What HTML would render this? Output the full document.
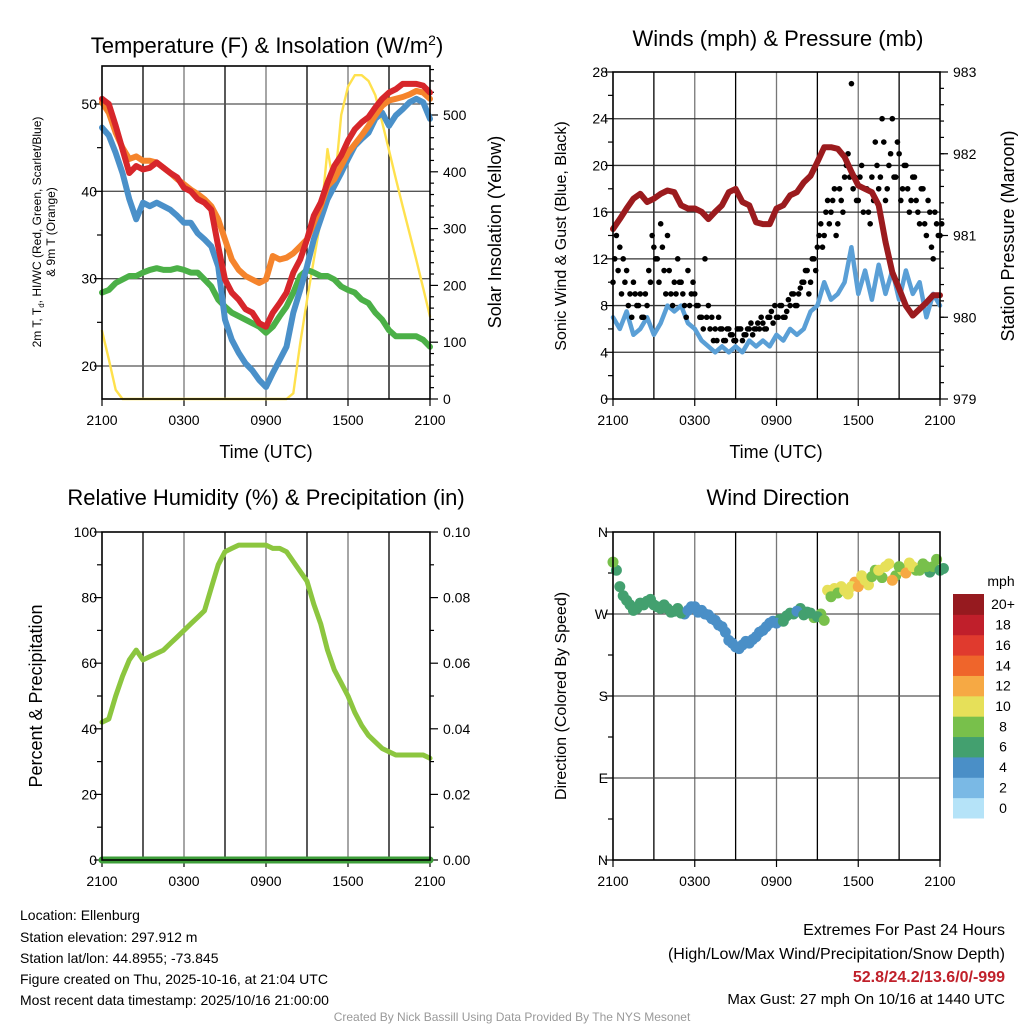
<!DOCTYPE html>
<html><head><meta charset="utf-8"><style>
html,body{margin:0;padding:0;background:#fff;}
svg{display:block;font-family:"Liberation Sans",Arial,sans-serif;}
</style></head><body>
<svg id="fig" width="1024" height="1024" viewBox="0 0 1024 1024">
<rect x="0" y="0" width="1024" height="1024" fill="#fff"/>
<text x="267" y="53" font-size="22" text-anchor="middle">Temperature (F) &amp; Insolation (W/m<tspan dy="-8" font-size="14">2</tspan><tspan dy="8">)</tspan></text>
<text x="778" y="46" font-size="22" text-anchor="middle">Winds (mph) &amp; Pressure (mb)</text>
<text x="266" y="505" font-size="22" text-anchor="middle">Relative Humidity (%) &amp; Precipitation (in)</text>
<text x="778" y="505" font-size="22" text-anchor="middle">Wind Direction</text>
<text x="266" y="458" font-size="18" text-anchor="middle">Time (UTC)</text>
<text x="776" y="458" font-size="18" text-anchor="middle">Time (UTC)</text>
<text transform="translate(41,232) rotate(-90)" font-size="12" text-anchor="middle">2m T, T<tspan font-size="8" dy="3">d</tspan><tspan dy="-3">, HI/WC (Red, Green, Scarlet/Blue)</tspan></text>
<text transform="translate(55,232) rotate(-90)" font-size="12" text-anchor="middle">&amp; 9m T (Orange)</text>
<text transform="translate(501,232) rotate(-90)" font-size="18" text-anchor="middle">Solar Insolation (Yellow)</text>
<text transform="translate(566,236) rotate(-90)" font-size="16" text-anchor="middle">Sonic Wind &amp; Gust (Blue, Black)</text>
<text transform="translate(1014,236) rotate(-90)" font-size="18" text-anchor="middle">Station Pressure (Maroon)</text>
<text transform="translate(42,696) rotate(-90)" font-size="18" text-anchor="middle">Percent &amp; Precipitation</text>
<text transform="translate(566,696) rotate(-90)" font-size="16" text-anchor="middle">Direction (Colored By Speed)</text>
<g font-size="14">
<text x="20" y="920">Location: Ellenburg</text>
<text x="20" y="942">Station elevation: 297.912 m</text>
<text x="20" y="963">Station lat/lon: 44.8955; -73.845</text>
<text x="20" y="984">Figure created on Thu, 2025-10-16, at 21:04 UTC</text>
<text x="20" y="1005">Most recent data timestamp: 2025/10/16 21:00:00</text>
</g>
<g text-anchor="end">
<text x="1005" y="935" font-size="16">Extremes For Past 24 Hours</text>
<text x="1005" y="959" font-size="16">(High/Low/Max Wind/Precipitation/Snow Depth)</text>
<text x="1005" y="982" font-size="16" font-weight="bold" fill="#c0202a">52.8/24.2/13.6/0/-999</text>
<text x="1005" y="1004" font-size="15">Max Gust: 27 mph On 10/16 at 1440 UTC</text>
</g>
<text x="512" y="1021" font-size="12" fill="#999" text-anchor="middle">Created By Nick Bassill Using Data Provided By The NYS Mesonet</text>
<text x="1001" y="586" font-size="14" text-anchor="middle">mph</text>
</svg>
<script>
// ---- data (half-hour steps from 2100 UTC, 49 points) ----
const xTickLabels = ["2100","0300","0900","1500","2100"];
const tempRed = [50.6,50,47.5,44.8,42.1,42.9,42.5,42.7,43.3,42.7,42.1,41.6,40.4,40,39.1,38.7,37.9,33.7,29.9,28.4,27.6,26.5,26.1,24.9,24.5,26.1,27.2,28.4,30.7,32.2,34.5,37.2,38.7,41,42.9,44.1,45.8,47.1,47.9,48.5,49.6,50.6,51.3,51.7,52.3,52.3,52.3,52.1,51.3];
const tempOrange = [50.2,49,46.7,45,43.7,44,43.5,43.5,43.3,42.7,42.1,41.4,40.8,40.2,39.7,39.1,38.3,36.8,34.5,32.2,31,30.3,29.9,29.5,29.9,32.6,32.2,32.4,32.9,33.7,34.5,36.4,38.3,40.6,41.4,42.9,44.4,45.4,46.4,47.5,48.7,49.8,50.4,50.6,50.8,51.1,51.5,51.3,50.6];
const tempBlue = [47.3,46.4,44.4,42.1,39.1,36.8,38.7,38.3,38.7,38.3,37.9,37.2,36.4,36.4,35.2,34.5,33.7,31.4,25.3,23,21.5,20.3,19.5,18.4,17.6,19.2,20.7,22.2,26.1,28.7,31.4,34.5,36.8,39.1,40.6,42.1,43.7,45.2,46,46.7,48.3,49,47.5,48.7,49.4,50.2,50.6,50.2,48.3];
const tempGreen = [28.4,28.7,29.5,29.9,30.3,30.3,30.7,31,31.2,31,31,31.2,31,30.7,30.7,29.9,29.1,27.6,26.8,26.1,25.7,25.3,24.9,24.5,23.8,24.5,25.7,26.8,28.4,30.3,31,30.7,30.3,30.3,29.9,29.1,28.7,28.4,27.6,27.2,26.1,25.3,24.1,23.4,23.4,23.4,23.4,23,22.2];
const insolation = [120,70,16,0,0,0,0,0,0,0,0,0,0,0,0,0,0,0,0,0,0,0,0,0,0,0,0,0,10,98,174,245,315,440,370,500,550,570,570,560,535,487,438,388,339,292,245,195,145];
const tempTicks = [20,30,40,50];
const insolTicks = [0,100,200,300,400,500];
const windSpeed = [7,6,7.5,5.5,6,7,5.5,6.5,8,7.5,8,6.5,6,5,4.5,4,4.5,4,4.5,4,5,4.5,5,4.5,5.5,5,6,5.5,6,7.5,8,10,8.5,9,10,13,9,11,8.5,11.5,9,11,8.5,11,9,10,7,9,8];
const pressure = [981.08,981.2,981.33,981.45,981.51,981.41,981.45,981.51,981.55,981.53,981.37,981.33,981.33,981.29,981.2,981.29,981.37,981.53,981.57,981.41,981.37,981.16,981.14,981.14,981.33,981.37,981.49,981.53,981.65,981.73,981.9,982.08,982.08,982.06,981.96,981.78,981.61,981.57,981.53,981.37,980.92,980.55,980.35,980.14,980.02,980.1,980.18,980.27,980.27];
// gusts every 15 minutes (97 points)
const gusts = [10,14,13,12,11,9,10,8,9,7,8,10,13,12,15,11,14,9,10,12,10,8,11,9,9,8,7,12,8,7,6,7,6,5,6,5.5,5,6,5,5.5,6,5.5,6,6,6.5,6,7,6.5,7,8,7,7.5,8,9,8,9.5,10,11,10,12,13,15,14,17,16,18,15,17,19,21,27,19,17,20,18,16,19,22,18,24,17,20,24,19,21,18,20,16,19,17,15,18,14,16,12,15,14];
// second gust sample set, offset by 7.5 minutes
const gustsB = [12,11,9,10,8,7,9,8,7,9,11,14,12,10,13,9,11,8,9,10,9,7,8,10,8,7,6,7,6,5,5,6,5,6,5.5,5,6,6,5.5,6,6.5,6,6.5,7,6,7,7.5,8,7,8,7,8.5,9,8,9,10,11,9,12,11,14,13,16,15,17,14,18,16,20,19,18,17,19,16,18,15,17,20,19,22,18,21,19,22,17,20,18,17,19,16,18,15,17,13,16,14,15];
const windTicks = [0,4,8,12,16,20,24,28];
const pressTicks = [979,980,981,982,983];
const humidity = [42,43,50,56,61,64,61,62,63,64,66,68,70,72,74,76,83,90,94,95,96,96,96,96,96,95,95,94,91,88,85,78,72,64,58,54,50,45,41,38,36,34,33,32,32,32,32,32,31];
const precip = [0,0,0,0,0,0,0,0,0,0,0,0,0,0,0,0,0,0,0,0,0,0,0,0,0,0,0,0,0,0,0,0,0,0,0,0,0,0,0,0,0,0,0,0,0,0,0,0,0];
const rhTicks = [0,20,40,60,80,100];
const precipTicks = ["0.00","0.02","0.04","0.06","0.08","0.10"];
const direction = [327,300,285,274,282,284,280,276,276,273,271,274,278,274,269,263,256,241,234,236,238,245,252,260,260,262,271,273,269,271,267,263,289,293,296,300,300,307,311,318,322,307,322,315,322,318,322,322,318];
const dirSpeed = [8,7,7,7,7,7,7,7,7,6.5,6,5,5,5,4.5,4.5,4,4,4,4,4,4,4,5,5,6,6,5,6,7,7,8,9,9,10,10,12,10,9,10,11,12,9,12,10,9,8,8,7];
const directionB = [318,290,280,276,280,286,278,280,272,276,270,278,272,270,265,258,250,238,232,240,242,250,256,262,264,268,270,276,272,266,270,296,298,300,292,305,312,302,318,310,325,312,318,326,318,325,316,330,320];
const dirSpeedB = [7,7,6,7,6,7,6,7,6,6,5,5,4,5,4,4,4,4,4,4,4,5,5,5,6,6,6,7,7,8,8,10,10,11,10,12,11,10,8,9,10,9,11,10,8,9,7,8,7];
const colorbarLabels = ["0","2","4","6","8","10","12","14","16","18","20+"];
const colorbarColors = ["#b5e3f8","#7ab9e5","#4a8fc7","#43a06f","#78c04b","#e6e059","#f6a944","#ef652b","#e03a2e","#c01f2b","#961a1f"];

const NS="http://www.w3.org/2000/svg";
const svg=document.getElementById('fig');
function el(tag,attrs,parent){const e=document.createElementNS(NS,tag);for(const k in attrs)e.setAttribute(k,attrs[k]);(parent||svg).appendChild(e);return e;}
function lin(d0,d1,r0,r1){return v=>r0+(v-d0)*(r1-r0)/(d1-d0);}

const P1={x0:102,x1:430,y0:66,y1:399}, P2={x0:613,x1:940,y0:72,y1:399}, P3={x0:102,x1:430,y0:532,y1:860}, P4={x0:613,x1:940,y0:532,y1:860};

function frame(P,name){
  const g=el('g',{});
  
  
  const xs=lin(0,24,P.x0,P.x1);
  for(let h=3;h<24;h+=3){
    const l=el('line',{x1:xs(h),x2:xs(h),y1:P.y0,y2:P.y1,stroke:h%6===0?'#777':'#000','stroke-width':1.3},g);
    
    
  }
  xTickLabels.forEach((s,i)=>{
    const x=xs(i*6);
    el('line',{x1:x,x2:x,y1:P.y1,y2:P.y1+7,stroke:'#000','stroke-width':1.2},g);
    const t=el('text',{x:x,y:P.y1+26,'font-size':14,'text-anchor':'middle'},g);
    t.textContent=s;
    
    
  });
  return {g,xs};
}
function hgrid(P,y,g,color){
  const l=el('line',{x1:P.x0,x2:P.x1,y1:y,y2:y,stroke:color||'#555','stroke-width':1.3},g);
  
  
}
function ytick(x,y,len,label,anchor,g,name){
  el('line',{x1:x,x2:x+len,y1:y,y2:y,stroke:'#000','stroke-width':1.2},g);
  if(label!==null){
    const t=el('text',{x:anchor==='end'?x+len-5:x+len+5,y:y+5,'font-size':14,'text-anchor':anchor},g);
    t.textContent=label;
    
    
  }
}
function border(P,g){
  const r=el('rect',{x:P.x0,y:P.y0,width:P.x1-P.x0,height:P.y1-P.y0,fill:'none',stroke:'#000','stroke-width':1.6},g);
  
  
}
function path(vals,xs,ys,step,attrs,g,name){
  const d=vals.map((v,i)=>(i?'L':'M')+xs(i*step).toFixed(1)+','+ys(v).toFixed(1)).join('');
  const p=el('path',Object.assign({d:d,fill:'none','stroke-linejoin':'round','stroke-linecap':'round'},attrs),g);
  
  
  return p;
}

// ---- Panel 1 ----
{
  const {g,xs}=frame(P1,'temperature-panel');
  const yT=lin(20,50,366,104), yI=lin(0,500,399,115);
  tempTicks.forEach(v=>{hgrid(P1,yT(v),g);ytick(P1.x0-8,yT(v),8,String(v),'end',g,'temp-tick-label');});
  for(let v=20;v<=50;v+=5) if(v%10) ytick(P1.x0-5,yT(v),5,null,'end',g);
  insolTicks.forEach(v=>ytick(P1.x1,yI(v),8,String(v),'start',g,'insolation-tick-label'));
  for(let v=20;v<=580;v+=20) if(v%100) ytick(P1.x1,yI(v),4,null,'start',g);
  path(insolation,xs,yI,0.5,{stroke:'#ffe14d','stroke-width':2.4},g,'insolation-line');
  path(tempGreen,xs,yT,0.5,{stroke:'#4bb047','stroke-width':6},g,'dewpoint-green-line');
  path(tempBlue,xs,yT,0.5,{stroke:'#4a90c9','stroke-width':6},g,'temp-blue-line');
  path(tempOrange,xs,yT,0.5,{stroke:'#f5842c','stroke-width':6},g,'temp-9m-orange-line');
  path(tempRed,xs,yT,0.5,{stroke:'#d7262b','stroke-width':6},g,'heat-index-red-line');
  border(P1,g);
}
// ---- Panel 2 ----
{
  const {g,xs}=frame(P2,'wind-panel');
  const yW=lin(0,28,399,72), yP=lin(979,983,399,72);
  windTicks.forEach(v=>{if(v>0&&v<28)hgrid(P2,yW(v),g,'#333');ytick(P2.x0-8,yW(v),8,String(v),'end',g,'wind-tick-label');});
  for(let v=2;v<28;v+=4) ytick(P2.x0-5,yW(v),5,null,'end',g);
  pressTicks.forEach(v=>ytick(P2.x1,yP(v),8,String(v),'start',g,'pressure-tick-label'));
  for(let v=979.2;v<983;v+=0.2) ytick(P2.x1,yP(v),4,null,'start',g);
  path(windSpeed,xs,yW,0.5,{stroke:'#5a9fd6','stroke-width':4.5},g,'sonic-wind-line');
  gusts.forEach((v,i)=>{
    const c=el('circle',{cx:xs(i*0.25),cy:yW(v),r:2.8,fill:'#000'},g);
    
    
  });
  gustsB.forEach((v,i)=>{
    const c=el('circle',{cx:xs(i*0.25+0.125),cy:yW(v),r:2.8,fill:'#000'},g);
    
    
  });
  path(pressure,xs,yP,0.5,{stroke:'#9b1b1e','stroke-width':6},g,'pressure-line');
  border(P2,g);
}
// ---- Panel 3 ----
{
  const {g,xs}=frame(P3,'humidity-panel');
  const yR=lin(0,100,860,532), yPr=lin(0,0.1,860,532);
  rhTicks.forEach(v=>ytick(P3.x0-8,yR(v),8,String(v),'end',g,'rh-tick-label'));
  for(let v=10;v<100;v+=20) ytick(P3.x0-5,yR(v),5,null,'end',g);
  precipTicks.forEach(s=>ytick(P3.x1,yPr(parseFloat(s)),8,s,'start',g,'precip-tick-label'));
  for(let v=0.01;v<0.1;v+=0.02) ytick(P3.x1,yPr(v),4,null,'start',g);
  path(humidity,xs,yR,0.5,{stroke:'#8cc63f','stroke-width':5},g,'humidity-line');
  path(precip,xs,yPr,0.5,{stroke:'#3e9e3a','stroke-width':7},g,'precipitation-line');
  border(P3,g);
}
// ---- Panel 4 ----
{
  const {g,xs}=frame(P4,'direction-panel');
  const yD=lin(0,360,860,532);
  ["N","E","S","W","N"].forEach((s,i)=>{
    const v=i*90;
    if(v>0&&v<360) hgrid(P4,yD(v),g,'#555');
    ytick(P4.x0-8,yD(v),8,s,'end',g,'direction-tick-label');
  });
  for(let v=45;v<360;v+=90) ytick(P4.x0-5,yD(v),5,null,'end',g);
  directionB.forEach((v,i)=>{
    const bin=Math.min(10,Math.floor(dirSpeedB[i]/2));
    const c=el('circle',{cx:xs(i*0.5+0.25),cy:yD(v),r:5.5,fill:colorbarColors[bin]},g);
    
    
  });
  direction.forEach((v,i)=>{
    const bin=Math.min(10,Math.floor(dirSpeed[i]/2));
    const c=el('circle',{cx:xs(i*0.5),cy:yD(v),r:5.5,fill:colorbarColors[bin]},g);
    
    
  });
  border(P4,g);
  const cb=el('g',{});
  
  
  const h=224/11;
  colorbarLabels.forEach((s,i)=>{
    const y=818-(i+1)*h;
    const r=el('rect',{x:953,y:y,width:31,height:h+0.5,fill:colorbarColors[i]},cb);
    
    
    const t=el('text',{x:1003,y:y+h/2+5,'font-size':14,'text-anchor':'middle'},cb);
    t.textContent=s;
    
    
  });
}
</script>
</body></html>
